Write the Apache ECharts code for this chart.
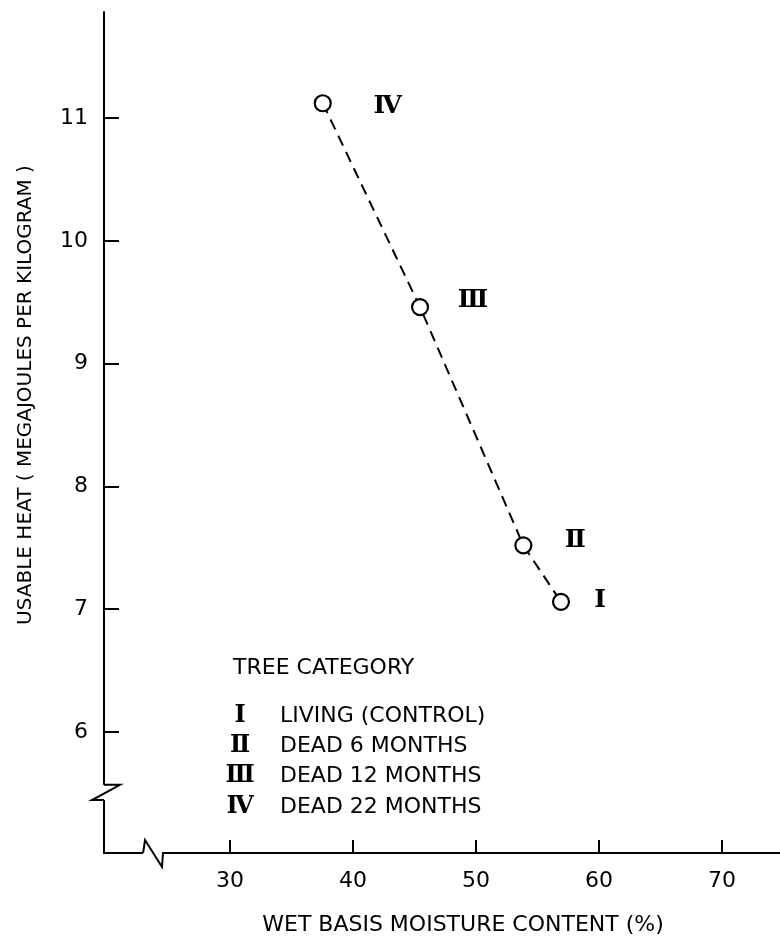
<!DOCTYPE html>
<html><head><meta charset="utf-8">
<script src="https://cdn.jsdelivr.net/npm/echarts@6/dist/echarts.min.js"></script>
<style>html,body{margin:0;padding:0;background:#fff}#c{width:780px;height:937px}</style>
</head><body><div id="c"></div>
<script>
// ---- data ----
const moisture = [37.54, 45.45, 53.85, 56.91];   // wet basis moisture content (%)
const heat = [11.12, 9.46, 7.52, 7.06];          // usable heat (MJ/kg)
const pointNumerals = ['Ⅳ', 'Ⅲ', 'Ⅱ', 'Ⅰ'];
const xTicks = [30, 40, 50, 60, 70];
const yTicks = [6, 7, 8, 9, 10, 11];
const legendTitle = 'TREE CATEGORY';
const legendNumerals = ['Ⅰ', 'Ⅱ', 'Ⅲ', 'Ⅳ'];
const legendLabels = ['LIVING (CONTROL)', 'DEAD 6 MONTHS', 'DEAD 12 MONTHS', 'DEAD 22 MONTHS'];
const xTitle = 'WET BASIS MOISTURE CONTENT (%)';
const yTitle = 'USABLE HEAT ( MEGAJOULES PER KILOGRAM )';

// ---- layout / style ----
const labelOffsets = [[65, 3], [53, -7], [52, -5], [39, -1]];
const X_MIN = 19.756, X_MAX = 74.715, Y_MIN = 5.015, Y_MAX = 11.863;
const X_BREAK = [22.93, 24.47], Y_BREAK = [5.57, 5.446];
const SANS = "'DejaVu Sans', sans-serif";
const SERIF = "'DejaVu Serif', 'Liberation Serif', serif";

const chart = echarts.init(document.getElementById('c'), null, {renderer: 'canvas'});
chart.setOption({
  animation: false,
  backgroundColor: '#fff',
  grid: {left: 104, top: 12, width: 676, height: 841, containLabel: false},
  xAxis: {
    type: 'value', min: X_MIN, max: X_MAX,
    splitLine: {show: false},
    axisLine: {show: true, onZero: false, lineStyle: {color: '#000', width: 2}},
    axisTick: {show: true, inside: true, length: 13, customValues: xTicks, lineStyle: {color: '#000', width: 2}},
    axisLabel: {customValues: xTicks, color: '#000', fontSize: 22, margin: 17, fontFamily: SANS}
  },
  yAxis: {
    type: 'value', min: Y_MIN, max: Y_MAX,
    splitLine: {show: false},
    axisLine: {show: true, onZero: false, lineStyle: {color: '#000', width: 2}},
    axisTick: {show: true, inside: true, length: 15, customValues: yTicks, lineStyle: {color: '#000', width: 2}},
    axisLabel: {customValues: yTicks, color: '#000', fontSize: 22, margin: 16, fontFamily: SANS}
  },
  series: [{
    type: 'line',
    data: moisture.map((x, i) => ({
      value: [x, heat[i]],
      label: {offset: labelOffsets[i], formatter: pointNumerals[i]}
    })),
    symbol: 'circle', symbolSize: 16,
    itemStyle: {color: '#fff', borderColor: '#000', borderWidth: 2.2},
    lineStyle: {color: '#000', width: 2, type: [11, 7]},
    label: {show: true, position: 'inside', color: '#000', fontSize: 25, fontWeight: 'bold', fontFamily: SERIF},
    z: 3
  }]
});

function px(v) { return chart.convertToPixel({gridIndex: 0}, v); }

const g = [];
// y axis break
const p1 = px([X_MIN, Y_BREAK[0]]), p2 = px([X_MIN, Y_BREAK[1]]);
g.push({type: 'rect', shape: {x: p1[0] - 5, y: p1[1], width: 10, height: p2[1] - p1[1]}, style: {fill: '#fff'}, z: 10});
g.push({type: 'polyline', shape: {points: [[p1[0], p1[1]], [p1[0] + 16, p1[1]], [p1[0] - 12, p2[1]], [p1[0], p2[1]]]},
  style: {stroke: '#000', lineWidth: 2, fill: null}, z: 11});
// x axis break
const q1 = px([X_BREAK[0], Y_MIN]), q2 = px([X_BREAK[1], Y_MIN]);
g.push({type: 'rect', shape: {x: q1[0], y: q1[1] - 5, width: q2[0] - q1[0], height: 10}, style: {fill: '#fff'}, z: 10});
g.push({type: 'polyline', shape: {points: [[q1[0], q1[1]], [q1[0] + 2, q1[1] - 13], [q2[0], q1[1] + 14], [q2[0] + 1, q1[1]]]},
  style: {stroke: '#000', lineWidth: 2, fill: null}, z: 11});
// axis titles
g.push({type: 'text', x: 463, y: 925, style: {text: xTitle, font: '22px ' + SANS, fill: '#000', textAlign: 'center', textVerticalAlign: 'middle'}, z: 12});
g.push({type: 'text', x: 26, y: 395, rotation: Math.PI / 2, style: {text: yTitle, font: '20px ' + SANS, fill: '#000', textAlign: 'center', textVerticalAlign: 'middle'}, z: 12});
// category key
g.push({type: 'text', x: 233, y: 668, style: {text: legendTitle, font: '22px ' + SANS, fill: '#000', textAlign: 'left', textVerticalAlign: 'middle'}, z: 12});
const rowY = [716, 746, 776, 807];
legendLabels.forEach((t, i) => {
  g.push({type: 'text', x: 240, y: rowY[i], style: {text: legendNumerals[i], font: 'bold 24px ' + SERIF, fill: '#000', textAlign: 'center', textVerticalAlign: 'middle'}, z: 12});
  g.push({type: 'text', x: 280, y: rowY[i], style: {text: t, font: '22px ' + SANS, fill: '#000', textAlign: 'left', textVerticalAlign: 'middle'}, z: 12});
});
chart.setOption({graphic: g});
</script></body></html>
